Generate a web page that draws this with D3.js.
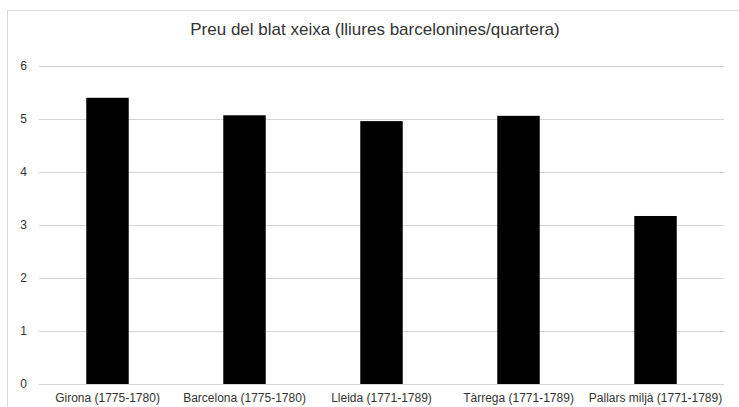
<!DOCTYPE html>
<html>
<head>
<meta charset="utf-8">
<script src="https://cdn.jsdelivr.net/npm/d3@7/dist/d3.min.js"></script>
<style>
  html, body { margin: 0; padding: 0; background: #fff; }
  svg { display: block; font-family: "Liberation Sans", Arial, sans-serif; }
</style>
</head>
<body>
<svg id="chart" width="739" height="407"></svg>
<script>
const categories = ["Girona (1775-1780)", "Barcelona (1775-1780)", "Lleida (1771-1789)", "Tàrrega (1771-1789)", "Pallars miljà (1771-1789)"];
const values = [5.40, 5.07, 4.96, 5.06, 3.17];
const yTicks = [0, 1, 2, 3, 4, 5, 6];
const title = "Preu del blat xeixa (lliures barcelonines/quartera)";

const FONT = "'Liberation Sans', Arial, sans-serif";
const svg = d3.select("#chart");
const W = 739, H = 407;
const margin = { left: 39, right: 15, top: 66, bottom: 23 };

// chart border
svg.append("rect")
  .attr("x", 7.5).attr("y", 10.5)
  .attr("width", W + 10).attr("height", H + 10)
  .attr("fill", "none").attr("stroke", "#d9d9d9").attr("stroke-width", 1);

const x = d3.scaleBand()
  .domain(categories)
  .range([margin.left, W - margin.right])
  .paddingInner(0.69)
  .paddingOuter(0.345);

const y = d3.scaleLinear()
  .domain([0, 6])
  .range([H - margin.bottom, margin.top]);

// gridlines
svg.append("g")
  .selectAll("line")
  .data(yTicks)
  .join("line")
  .attr("x1", margin.left).attr("x2", W - margin.right)
  .attr("y1", d => Math.round(y(d)) + 0.5)
  .attr("y2", d => Math.round(y(d)) + 0.5)
  .attr("stroke", "#d4d4d4").attr("stroke-width", 1);

// y axis labels
const yAxis = d3.axisLeft(y).tickValues(yTicks).tickSize(0).tickPadding(0).tickFormat(d3.format("d"));
const yg = svg.append("g").attr("transform", `translate(27,0)`).call(yAxis);
yg.select(".domain").remove();
yg.selectAll("text").attr("font-size", "12px").attr("fill", "#333")
  .attr("font-family", FONT);

// bars
svg.append("g")
  .selectAll("rect")
  .data(values)
  .join("rect")
  .attr("x", (d, i) => x(categories[i]))
  .attr("width", x.bandwidth())
  .attr("y", d => y(d))
  .attr("height", d => y(0) - y(d))
  .attr("fill", "#000");

// x axis labels
const xAxis = d3.axisBottom(x).tickSize(0).tickPadding(9);
const xg = svg.append("g").attr("transform", `translate(0,${y(0)})`).call(xAxis);
xg.select(".domain").remove();
xg.selectAll("text").attr("font-size", "12px").attr("fill", "#333")
  .attr("font-family", FONT);

// title
svg.append("text")
  .attr("x", 375).attr("y", 35)
  .attr("text-anchor", "middle")
  .attr("font-family", FONT)
  .attr("font-size", "17px")
  .attr("fill", "#333")
  .text(title);
</script>
</body>
</html>
